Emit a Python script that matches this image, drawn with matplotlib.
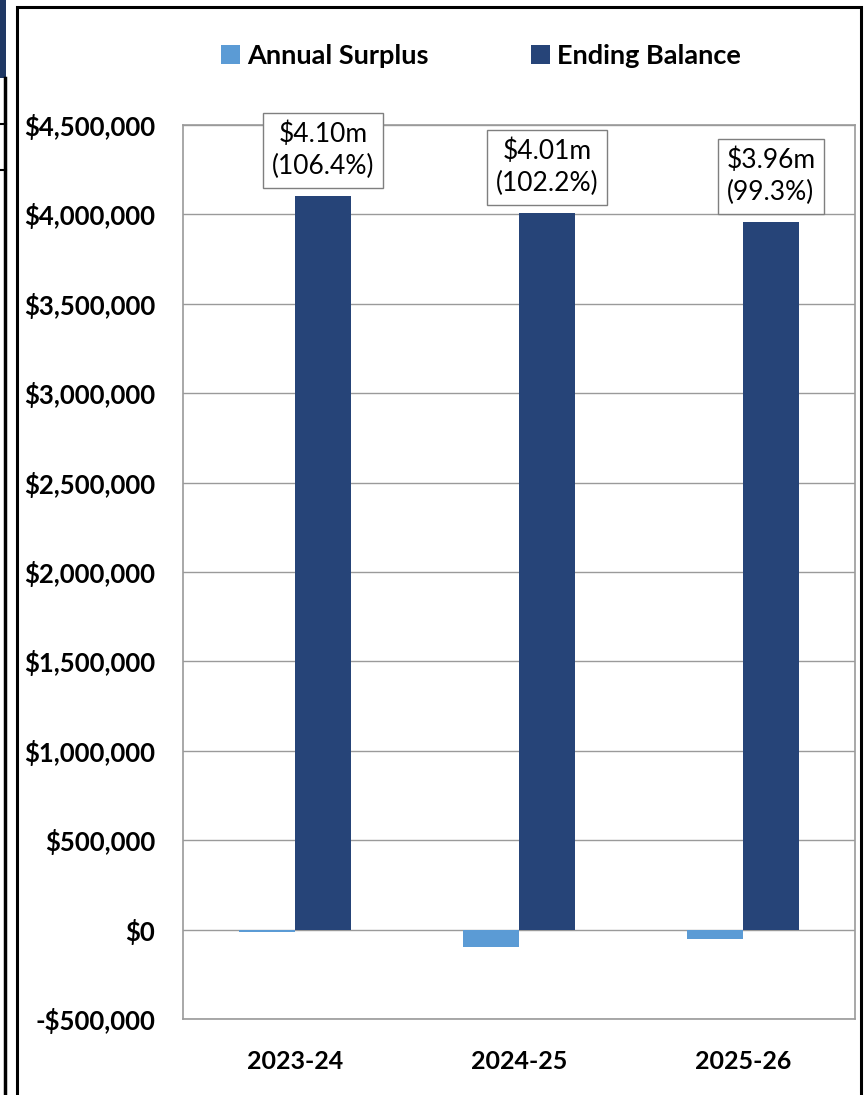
import matplotlib.pyplot as plt
from matplotlib.patches import Rectangle
from matplotlib.lines import Line2D

# data
years = ["2023-24", "2024-25", "2025-26"]
annual_surplus = [-15000, -95000, -50000]
ending_balance = [4103000, 4008000, 3958000]
balance_labels = ["$4.10m\n(106.4%)", "$4.01m\n(102.2%)", "$3.96m\n(99.3%)"]
yticks = [-500000, 0, 500000, 1000000, 1500000, 2000000, 2500000,
          3000000, 3500000, 4000000, 4500000]

light = "#5B9BD5"
dark = "#264478"
grid_c = "#9A9A9A"

plt.rcParams['font.family'] = ['Lato', 'DejaVu Sans']

W, H = 865, 1095
fig = plt.figure(figsize=(W / 100, H / 100), dpi=100)

# plot area in pixel coords of the reference
left, right, top, bottom = 183, 855, 125, 1019
ax = fig.add_axes([left / W, 1 - bottom / H, (right - left) / W, (bottom - top) / H])

x = list(range(len(years)))
bw = 0.25
b1 = ax.bar([i - bw / 2 for i in x], annual_surplus, bw, color=light, label="Annual Surplus", zorder=3)
b2 = ax.bar([i + bw / 2 for i in x], ending_balance, bw, color=dark, label="Ending Balance", zorder=3)

for i, (v, txt) in enumerate(zip(ending_balance, balance_labels)):
    ax.annotate(txt, (i + bw / 2, v), xytext=(0, 12), textcoords='offset points',
                ha='center', va='bottom', fontsize=19, linespacing=1.35,
                bbox=dict(boxstyle='square,pad=0.32', fc='white', ec='#7F7F7F', lw=1),
                zorder=5)

ax.set_xlim(-0.5, 2.5)
ax.set_ylim(-500000, 4500000)
ax.set_yticks(yticks)
ax.set_yticklabels([("-$" if t < 0 else "$") + f"{abs(t):,}" for t in yticks],
                   fontsize=18.5, fontweight='bold')
ax.set_xticks(x)
ax.set_xticklabels(years, fontsize=18, fontweight='bold')
ax.tick_params(axis='both', length=0)
ax.tick_params(axis='y', pad=20)
ax.tick_params(axis='x', pad=22)
ax.grid(axis='y', color=grid_c, lw=1, zorder=0)
for s in ax.spines.values():
    s.set_color(grid_c)
    s.set_linewidth(1.2)

fig.legend(handles=[b1, b2], loc='center', bbox_to_anchor=(481 / W, 1 - 56 / H),
           ncol=2, frameon=False, handlelength=0.7, handleheight=0.7,
           handletextpad=0.25, columnspacing=3.8,
           prop={'weight': 'bold', 'size': 19.5})

# outer chart frame and bits of the neighbouring page on the left
fig.add_artist(Rectangle((17 / W, -0.05), (861 - 17) / W, 1.05 - 7 / H,
                         transform=fig.transFigure, fill=False, ec='black', lw=2.2))
fig.add_artist(Rectangle((0, 1 - 78 / H), 6 / W, 78 / H, transform=fig.transFigure,
                         fc='#1F3864', ec='none'))
fig.add_artist(Line2D([5 / W, 5 / W], [0, 1 - 78 / H], transform=fig.transFigure,
                      color='black', lw=2.5))
for yy in (124, 170):
    fig.add_artist(Line2D([0, 6 / W], [1 - yy / H, 1 - yy / H], transform=fig.transFigure,
                          color='black', lw=1.5))

fig.savefig("out.png", dpi=100)
